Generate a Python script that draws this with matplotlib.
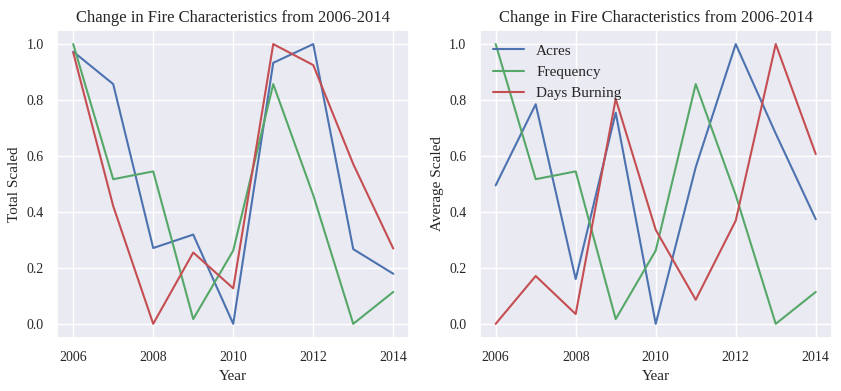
import numpy as np
import matplotlib
matplotlib.use('Agg')
import matplotlib.pyplot as plt
import seaborn as sns

# Data
years = [2006, 2007, 2008, 2009, 2010, 2011, 2012, 2013, 2014]

# Total scaled (left panel)
total_acres = [0.973, 0.857, 0.271, 0.319, 0.0, 0.933, 1.0, 0.267, 0.179]
total_freq = [1.0, 0.517, 0.545, 0.017, 0.262, 0.857, 0.46, 0.0, 0.114]
total_days = [0.97, 0.421, 0.0, 0.255, 0.127, 1.0, 0.925, 0.571, 0.269]

# Average scaled (right panel)
avg_acres = [0.495, 0.785, 0.16, 0.755, 0.0, 0.56, 1.0, 0.68, 0.374]
avg_freq = [1.0, 0.517, 0.545, 0.017, 0.262, 0.857, 0.46, 0.0, 0.114]
avg_days = [0.0, 0.171, 0.035, 0.804, 0.336, 0.086, 0.369, 1.0, 0.607]

labels = ['Acres', 'Frequency', 'Days Burning']

sns.set_theme(style='darkgrid')
plt.rcParams['font.family'] = ['Liberation Serif', 'DejaVu Serif']
colors = sns.color_palette('deep')
c_blue, c_green, c_red = colors[0], colors[2], colors[3]

fig, (ax1, ax2) = plt.subplots(1, 2, figsize=(8.41, 3.91), dpi=100)
fig.subplots_adjust(left=0.068, right=0.989, top=0.923, bottom=0.136, wspace=0.2)

# Left: totals
ax1.plot(years, total_acres, color=c_blue, label=labels[0])
ax1.plot(years, total_freq, color=c_green, label=labels[1])
ax1.plot(years, total_days, color=c_red, label=labels[2])
ax1.set_ylabel('Total Scaled')

# Right: averages
ax2.plot(years, avg_acres, color=c_blue, label=labels[0])
ax2.plot(years, avg_freq, color=c_green, label=labels[1])
ax2.plot(years, avg_days, color=c_red, label=labels[2])
ax2.set_ylabel('Average Scaled')
ax2.legend(loc='upper left', frameon=False, fontsize=11)

for ax in [ax1, ax2]:
    ax.set_title('Change in Fire Characteristics from 2006-2014', fontsize=12)
    ax.set_xlabel('Year', fontsize=11)
    ax.yaxis.label.set_size(11)
    ax.set_xticks([2006, 2008, 2010, 2012, 2014])
    ax.tick_params(labelsize=10)

fig.savefig('out.png', dpi=100)
